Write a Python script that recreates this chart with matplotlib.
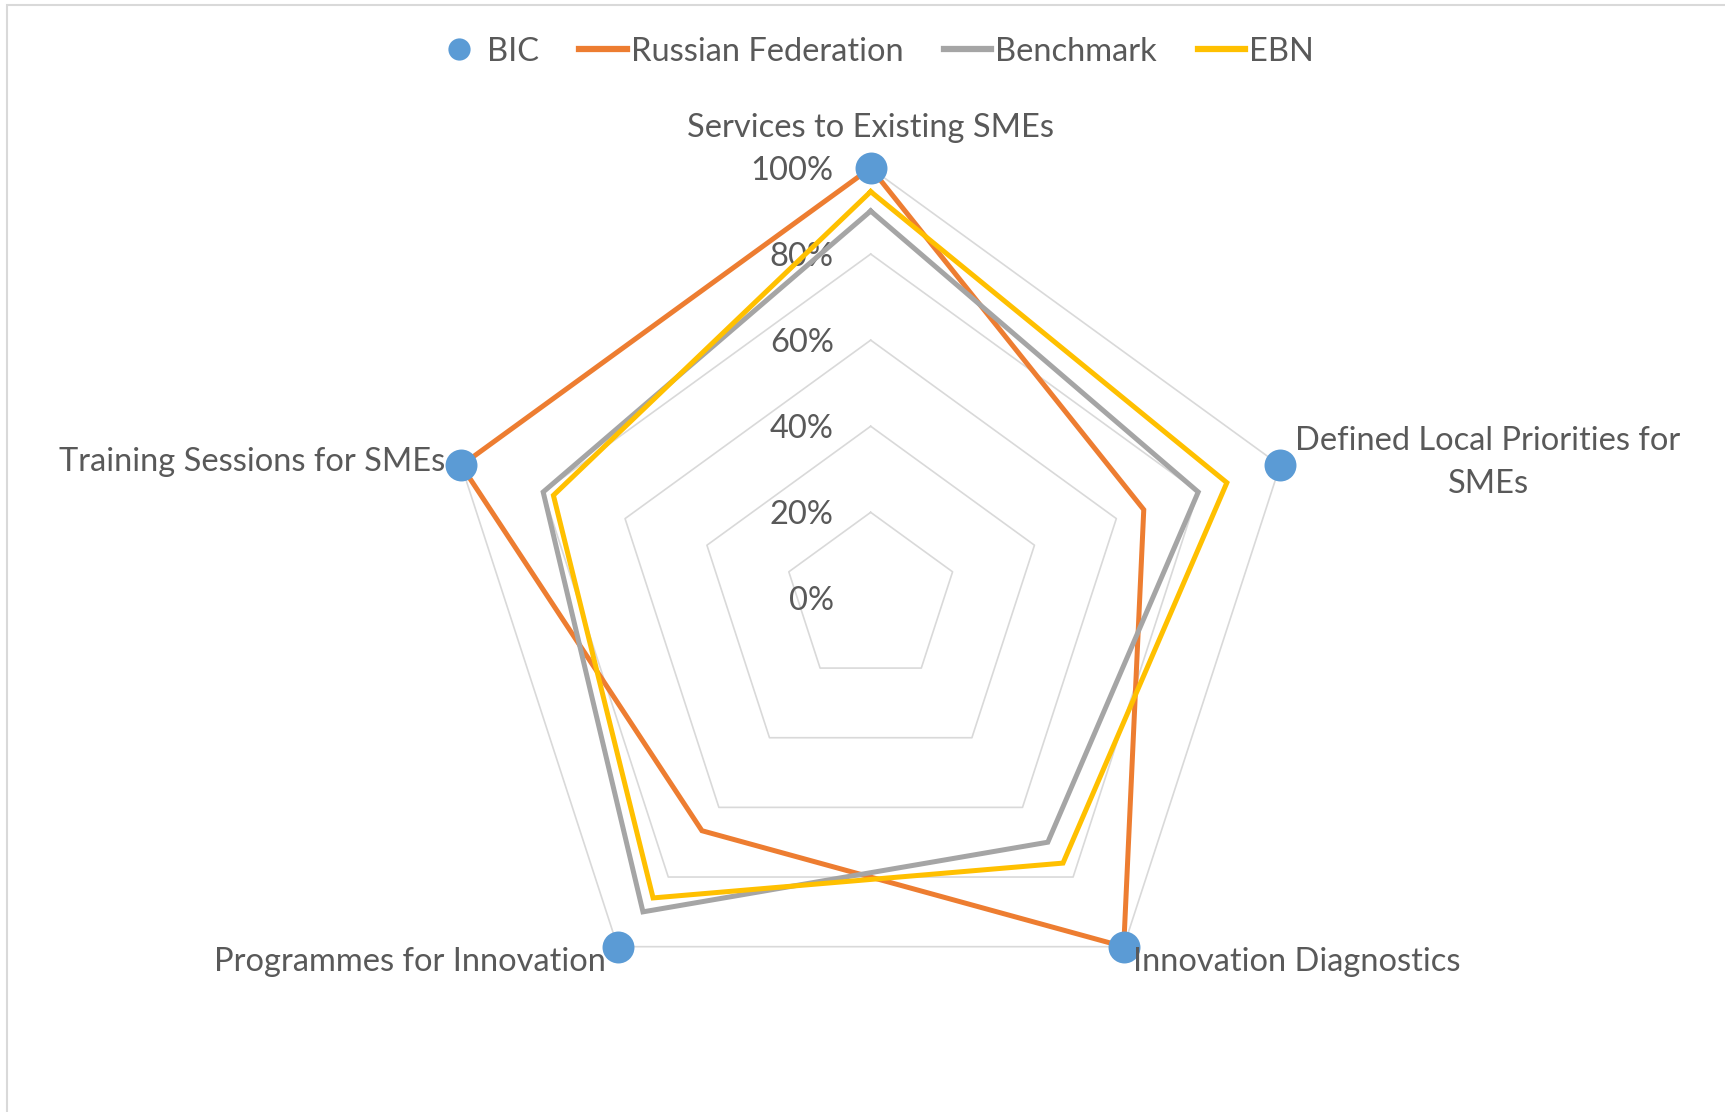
import numpy as np
import matplotlib
matplotlib.use("Agg")
import matplotlib.pyplot as plt
from matplotlib.lines import Line2D
from matplotlib.patches import Rectangle

# Categories, clockwise from the top
categories = [
    "Services to Existing SMEs",
    "Defined Local Priorities for\nSMEs",
    "Innovation Diagnostics",
    "Programmes for Innovation",
    "Training Sessions for SMEs",
]

# Values (fractions of 100%)
bic = [1.00, 1.00, 1.00, 1.00, 1.00]
russian_federation = [1.00, 0.667, 1.00, 0.667, 1.00]
benchmark = [0.90, 0.80, 0.70, 0.90, 0.80]
ebn = [0.945, 0.87, 0.76, 0.86, 0.775]

ring_levels = [0.2, 0.4, 0.6, 0.8, 1.0]
ring_labels = ["0%", "20%", "40%", "60%", "80%", "100%"]

TEXT = "#595959"
GRID = "#D9D9D9"
C_BIC = "#5B9BD5"
C_RUS = "#ED7D31"
C_BEN = "#A5A5A5"
C_EBN = "#FFC000"

plt.rcParams["font.family"] = ["Lato", "DejaVu Sans"]
FS = 23.5

fig = plt.figure(figsize=(17.25, 11.12), dpi=100)
ax = fig.add_axes([0.2552, 0.0747, 0.4991, 0.7743], projection="polar")
ax.set_theta_zero_location("N")
ax.set_theta_direction(-1)
ax.set_ylim(0, 1)
ax.set_xticks([])
ax.set_yticks([])
ax.grid(False)
ax.spines["polar"].set_visible(False)
ax.patch.set_alpha(0)

n = len(categories)
theta = np.linspace(0, 2 * np.pi, n, endpoint=False)
theta_c = np.append(theta, theta[0])


def closed(vals):
    return np.append(vals, vals[0])


# pentagon grid rings
for r in ring_levels:
    ax.plot(theta_c, [r] * (n + 1), color=GRID, lw=1.2, zorder=1, clip_on=False)

# series
for vals, col, z in [(russian_federation, C_RUS, 3), (benchmark, C_BEN, 4),
                     (ebn, C_EBN, 5)]:
    ax.plot(theta_c, closed(vals), color=col, lw=3.6, zorder=z,
            solid_joinstyle="miter", clip_on=False)
ax.plot(theta, bic, "o", color=C_BIC, ms=23, mec="none", zorder=6, clip_on=False)

# ring labels along the top axis
for r, lab in zip([0.0] + ring_levels, ring_labels):
    ax.annotate(lab, xy=(0, r), xytext=(-37, -3), textcoords="offset pixels",
                ha="right", va="center", fontsize=FS, color=TEXT,
                annotation_clip=False)

# category labels
offsets = [(0, 40, "center"), (208, 3, "center"), (9, -15, "left"),
           (-12, -15, "right"), (-16, 3, "right")]
for t, lab, (dx, dy, ha) in zip(theta, categories, offsets):
    ax.annotate(lab, xy=(t, 1.0), xytext=(dx, dy), textcoords="offset pixels",
                ha=ha, va="center", fontsize=FS, color=TEXT,
                multialignment="center", linespacing=1.55,
                annotation_clip=False, zorder=7)

# legend
handles = [
    Line2D([], [], ls="none", marker="o", ms=16, color=C_BIC, mec="none"),
    Line2D([], [], color=C_RUS, lw=4.5),
    Line2D([], [], color=C_BEN, lw=4.5),
    Line2D([], [], color=C_EBN, lw=4.5),
]
leg = fig.legend(handles, ["BIC", "Russian Federation", "Benchmark", "EBN"],
                 loc="center", bbox_to_anchor=(0.507, 0.9535), ncol=4,
                 frameon=False, fontsize=FS, handlelength=1.45,
                 handletextpad=0.12, columnspacing=1.25, labelcolor=TEXT)

# chart area border (cropped on the right and bottom)
fig.patches.append(Rectangle((7 / 1725, -0.1), 1.2, 1.1 - 5 / 1112,
                             transform=fig.transFigure, fill=False,
                             edgecolor=GRID, lw=1.5))

fig.savefig("out.png", dpi=100)
